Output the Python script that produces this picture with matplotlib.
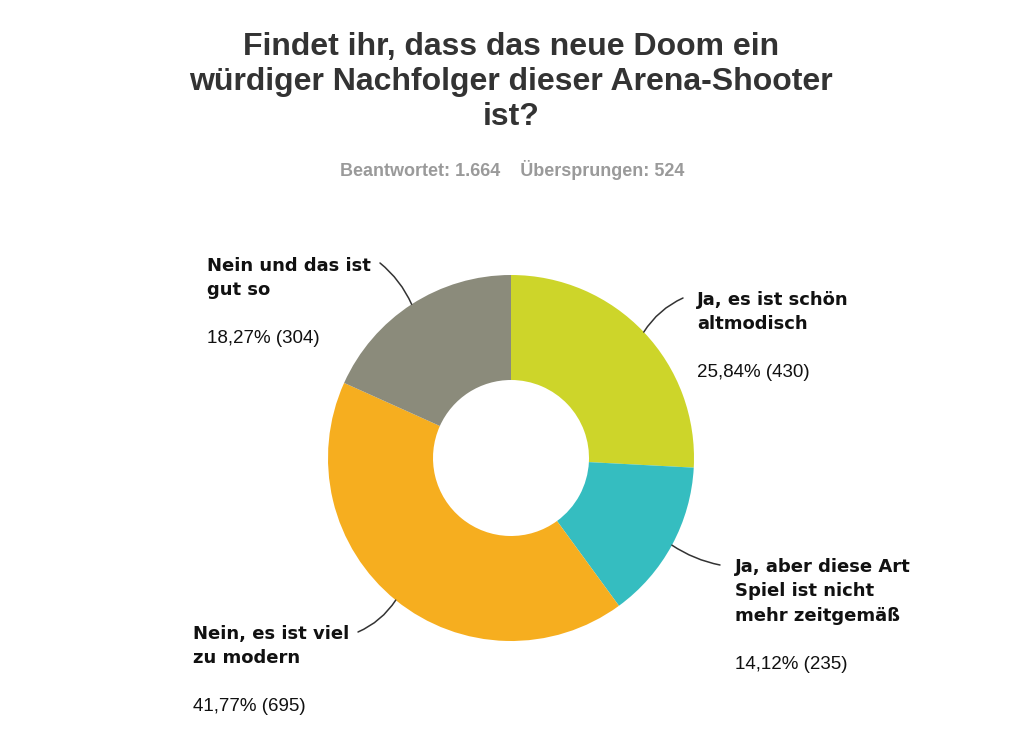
import numpy as np
import matplotlib
matplotlib.use("Agg")
import matplotlib.pyplot as plt

# -----------------------------
# Daten
# -----------------------------
labels = [
    "Ja, es ist schön\naltmodisch",
    "Ja, aber diese Art\nSpiel ist nicht\nmehr zeitgemäß",
    "Nein, es ist viel\nzu modern",
    "Nein und das ist\ngut so",
]
percents = [25.84, 14.12, 41.77, 18.27]
counts = [430, 235, 695, 304]
colors = ["#cdd52a", "#35bdc0", "#f6ae1f", "#8b8b7b"]

title = "Findet ihr, dass das neue Doom ein\nwürdiger Nachfolger dieser Arena-Shooter\nist?"
subtitle = "Beantwortet: 1.664    Übersprungen: 524"

# Layout (Pixel, y von oben)
W, H = 1020, 729
cx, cy, r_out, r_in = 511, 458, 183, 78
# Textanker (links, Grundlinie erste Zeile) und Ende der Führungslinie
label_pos = [(697, 305), (735, 572), (193, 639), (207, 271)]
line_end = [(683, 298), (720, 565), (358, 632), (380, 263)]
line_rad = [0.15, -0.1, 0.15, -0.12]
line_step = 24.3

def py(y):
    return H - y

fig = plt.figure(figsize=(W / 100, H / 100), dpi=100)
ax = fig.add_axes([0, 0, 1, 1])

wedges, _ = ax.pie(percents, colors=colors, startangle=90, counterclock=False,
                   radius=r_out, center=(cx, py(cy)),
                   wedgeprops=dict(width=r_out - r_in, linewidth=0))
ax.set_xlim(0, W)
ax.set_ylim(0, H)
ax.set_aspect("equal")
ax.set_axis_off()

for w, lab, p, n, (lx, ly), (ex, ey), rad in zip(
        wedges, labels, percents, counts, label_pos, line_end, line_rad):
    mid = np.deg2rad((w.theta1 + w.theta2) / 2)
    sx = cx + r_out * np.cos(mid)
    sy = py(cy) + r_out * np.sin(mid)
    ax.annotate("", xy=(sx, sy), xytext=(ex, py(ey)),
                arrowprops=dict(arrowstyle="-", color="#333333", lw=1.1,
                                connectionstyle=f"arc3,rad={rad}",
                                shrinkA=0, shrinkB=0))
    lines = lab.split("\n")
    for i, line in enumerate(lines):
        ax.text(lx, py(ly + line_step * i), line, ha="left", va="baseline",
                fontsize=13, fontweight="bold", family="DejaVu Sans",
                color="#111111")
    pct = f"{p:.2f}".replace(".", ",") + f"% ({n})"
    ax.text(lx, py(ly + line_step * (len(lines) - 1) + 48), pct, ha="left",
            va="baseline", fontsize=13.5, family="Liberation Sans",
            color="#111111")

ax.text(W / 2 + 1, py(82), title, ha="center", va="center", fontsize=23,
        fontweight="bold", family="Liberation Sans",
        color="#333333", linespacing=1.22)
ax.text(W / 2 + 2, py(170), subtitle, ha="center", va="center", fontsize=13,
        fontweight="bold", family="Liberation Sans",
        color="#9a9a9a")

fig.savefig("out.png", dpi=100, facecolor="white")
